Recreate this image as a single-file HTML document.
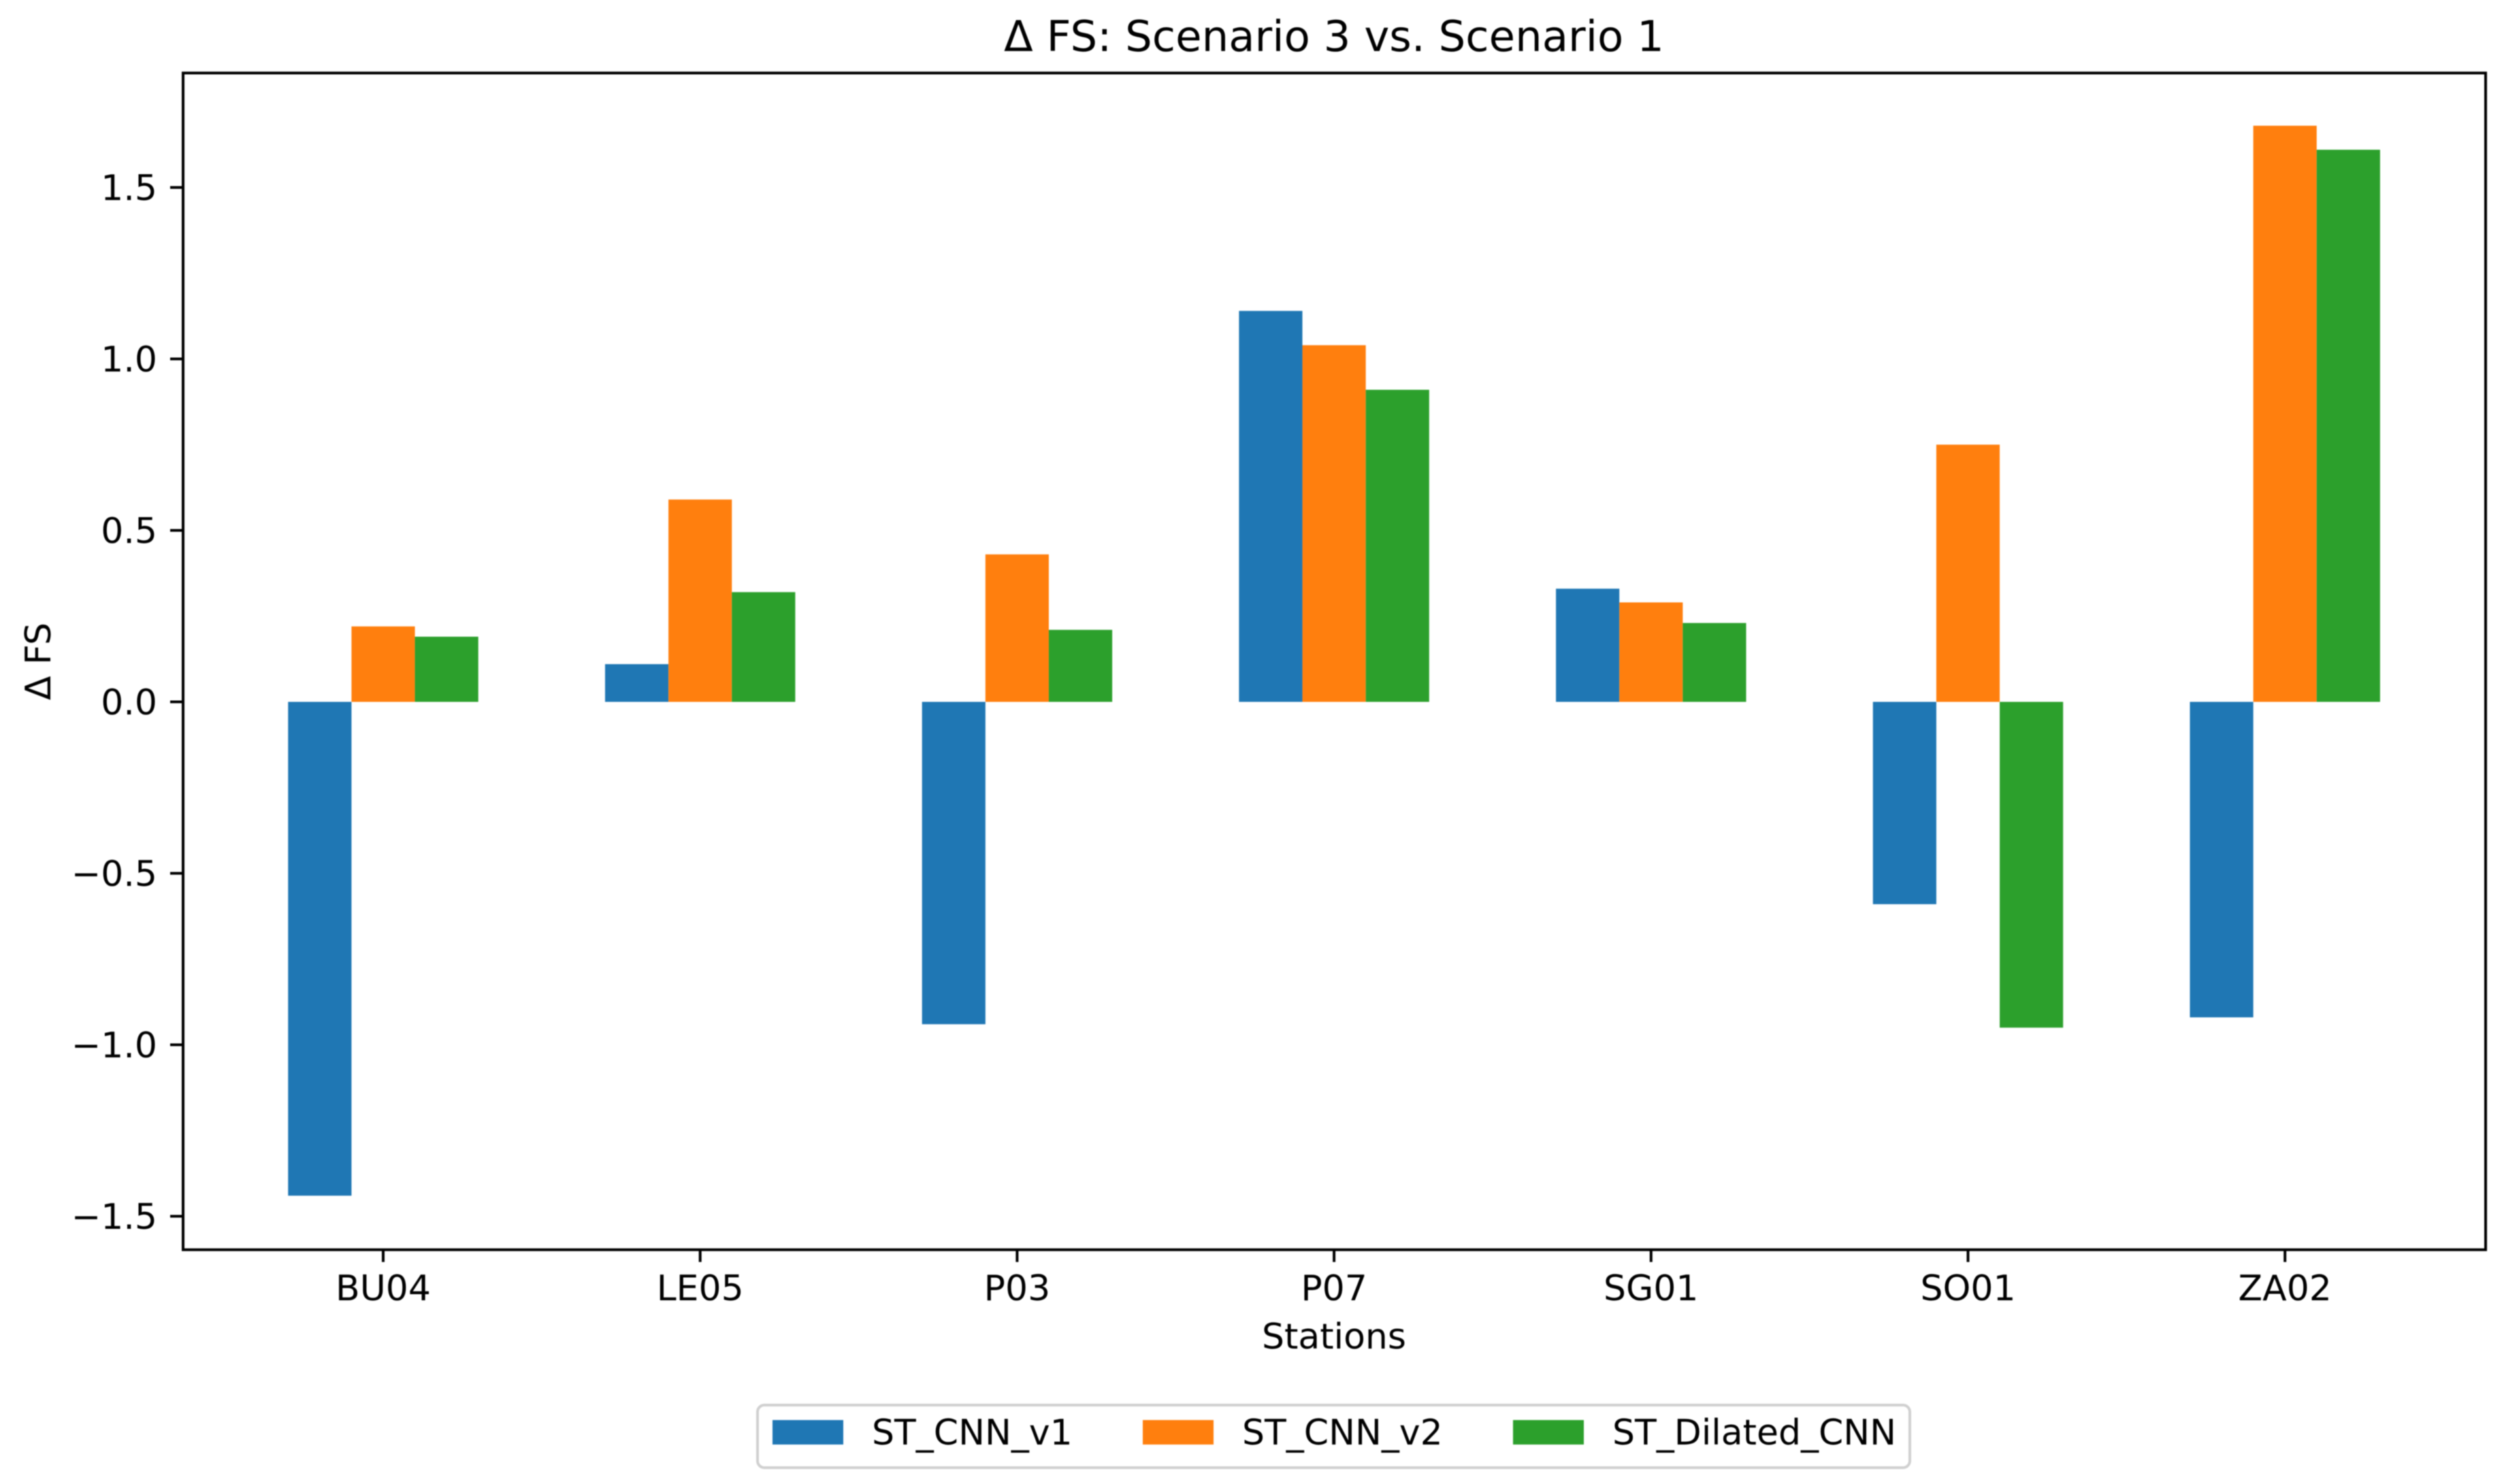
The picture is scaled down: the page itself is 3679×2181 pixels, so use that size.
<!DOCTYPE html>
<html lang="en">
<head>
<meta charset="utf-8">
<title>Δ FS: Scenario 3 vs. Scenario 1</title>
<style>
  html, body { margin: 0; padding: 0; background: #ffffff; }
  body { width: 3679px; height: 2181px; overflow: hidden; }
  svg { display: block; filter: blur(0.8px); }
  text { font-family: "DejaVu Sans", "Liberation Sans", sans-serif; fill: #000000; }
</style>
</head>
<body>
<svg id="chart" xmlns="http://www.w3.org/2000/svg" width="3679" height="2181" viewBox="0 0 3679 2181">
  <rect x="0" y="0" width="3679" height="2181" fill="#ffffff"/>
  <g id="bars"></g>
  <g id="x-ticks"></g>
  <g id="y-ticks"></g>
  <rect x="269" y="107.3" width="3383" height="1729.4" fill="none" stroke="#000000" stroke-width="4"/>
  <text x="1960" y="75" text-anchor="middle" font-size="62.5">Δ FS: Scenario 3 vs. Scenario 1</text>
  <text x="1960" y="1982" text-anchor="middle" font-size="52">Stations</text>
  <text transform="translate(74 972) rotate(-90)" text-anchor="middle" font-size="52">Δ FS</text>
  <g id="legend">
    <rect x="1113" y="2065" width="1693" height="92" rx="10" ry="10" fill="#ffffff" stroke="#d0d0d0" stroke-width="4"/>
  </g>
</svg>
<script>
const categories = ["BU04", "LE05", "P03", "P07", "SG01", "SO01", "ZA02"];
const seriesNames = ["ST_CNN_v1", "ST_CNN_v2", "ST_Dilated_CNN"];
const stCnnV1 = [-1.44, 0.11, -0.94, 1.14, 0.33, -0.59, -0.92];
const stCnnV2 = [0.22, 0.59, 0.43, 1.04, 0.29, 0.75, 1.68];
const stDilatedCnn = [0.19, 0.32, 0.21, 0.91, 0.23, -0.95, 1.61];
const seriesColors = ["#1f77b4", "#ff7f0e", "#2ca02c"];
const yTickValues = [-1.5, -1.0, -0.5, 0.0, 0.5, 1.0, 1.5];
const yTickLabels = ["\u22121.5", "\u22121.0", "\u22120.5", "0.0", "0.5", "1.0", "1.5"];

const NS = "http://www.w3.org/2000/svg";
const allSeries = [stCnnV1, stCnnV2, stDilatedCnn];
const CATEGORY_STEP = 465.7;
const BAR_WIDTH = 0.2 * CATEGORY_STEP;
const TICK_LENGTH = 18;

function xScale(i) { return 563 + i * CATEGORY_STEP; }
function yScale(v) { return 1031.5 - v * 504; }

function make(tag, attrs, parent) {
  const el = document.createElementNS(NS, tag);
  for (const k in attrs) el.setAttribute(k, attrs[k]);
  parent.appendChild(el);
  return el;
}

const barsGroup = document.getElementById("bars");
allSeries.forEach(function (values, s) {
  values.forEach(function (v, i) {
    const top = Math.min(yScale(v), yScale(0));
    const bar = make("rect", {
      x: xScale(i) + (s - 1) * BAR_WIDTH - BAR_WIDTH / 2,
      y: top,
      width: BAR_WIDTH,
      height: Math.abs(yScale(v) - yScale(0)),
      fill: seriesColors[s]
    }, barsGroup);
    
    
  });
});

const xTicks = document.getElementById("x-ticks");
categories.forEach(function (c, i) {
  const tick = make("line", {
    x1: xScale(i), x2: xScale(i), y1: 1836.7, y2: 1836.7 + TICK_LENGTH,
    stroke: "#000000", "stroke-width": 4
  }, xTicks);
  
  
  const label = make("text", {
    x: xScale(i), y: 1911, "text-anchor": "middle", "font-size": 52
  }, xTicks);
  label.textContent = c;
  
  
});

const yTicks = document.getElementById("y-ticks");
yTickValues.forEach(function (v, i) {
  const tick = make("line", {
    x1: 269 - TICK_LENGTH - 1, x2: 269, y1: yScale(v), y2: yScale(v),
    stroke: "#000000", "stroke-width": 4
  }, yTicks);
  
  
  const label = make("text", {
    x: 231, y: yScale(v) + 18.5, "text-anchor": "end", "font-size": 52
  }, yTicks);
  label.textContent = yTickLabels[i];
  
  
});

const legend = document.getElementById("legend");
seriesNames.forEach(function (name, s) {
  const handleX = 1135 + s * 544;
  const handle = make("rect", {
    x: handleX, y: 2087, width: 104, height: 36, fill: seriesColors[s]
  }, legend);
  
  
  const label = make("text", {
    x: handleX + 146, y: 2123, "font-size": 52
  }, legend);
  label.textContent = name;
  
  
});
</script>
</body>
</html>
